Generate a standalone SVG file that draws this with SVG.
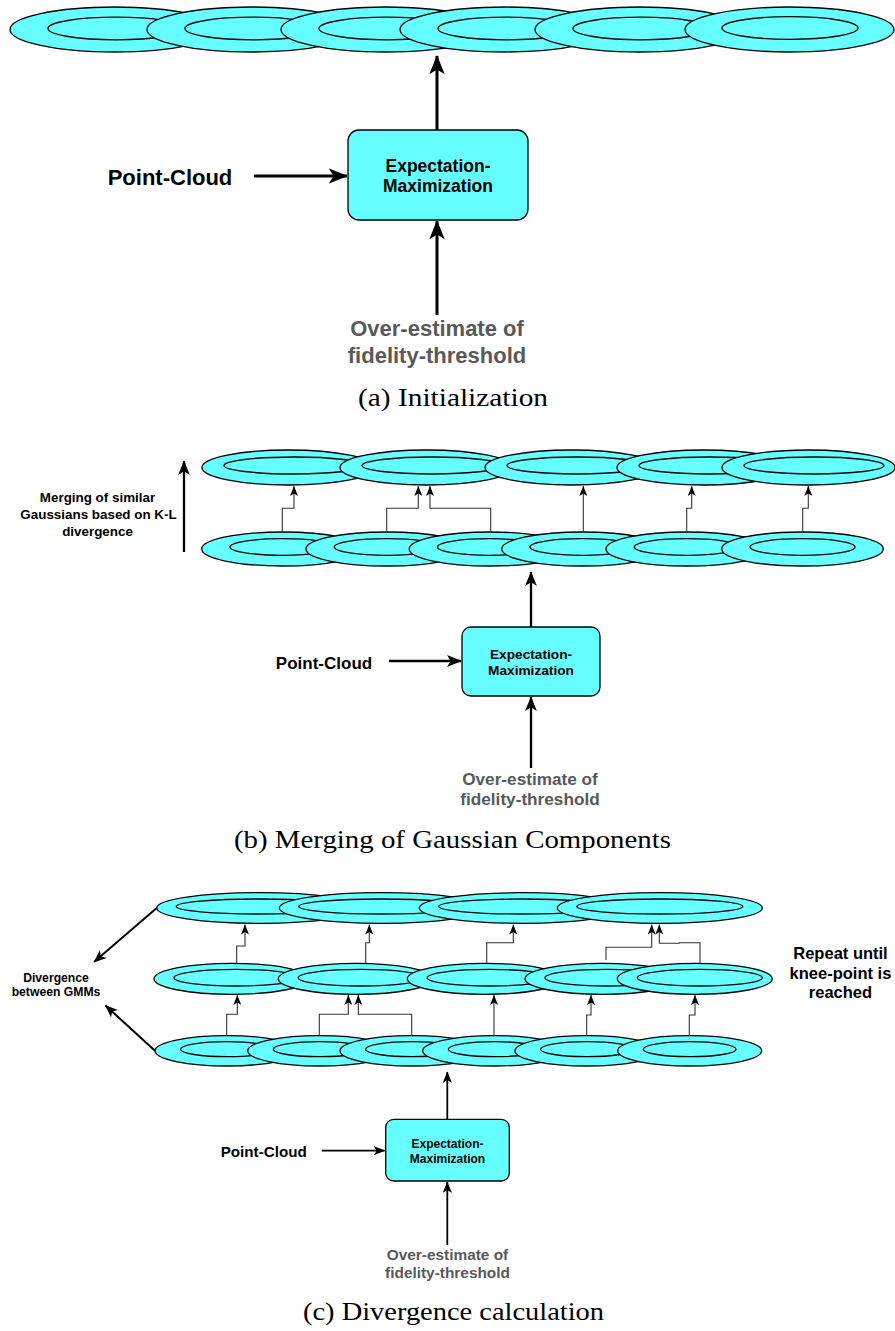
<svg xmlns="http://www.w3.org/2000/svg" width="895" height="1331" viewBox="0 0 895 1331">
<style>
.o{fill:#66FFFF;stroke:#000;stroke-width:1.3}
.i{fill:none;stroke:#000;stroke-width:1.3}
.box{fill:#66FFFF;stroke:#000;stroke-width:1.3}
.t{font-family:"Liberation Sans",Arial,sans-serif;font-weight:bold;fill:#000;text-anchor:middle}
.g{fill:#595959}
.cap{font-family:"Liberation Serif","Times New Roman",serif;font-size:26px;fill:#000;text-anchor:middle}
.thick{fill:none;stroke:#000;marker-end:url(#big)}
.thin{fill:none;stroke:#333;stroke-width:1.1;marker-end:url(#small)}
</style>
<defs>
<marker id="big" viewBox="0 0 20 16" refX="19" refY="8" markerWidth="6.4" markerHeight="5.2" markerUnits="strokeWidth" orient="auto">
<path d="M0,0 L20,8 L0,16 L5,8 Z" fill="#000"/>
</marker>
<marker id="small" viewBox="0 0 10 8" refX="10" refY="4" markerWidth="10" markerHeight="8" markerUnits="userSpaceOnUse" orient="auto">
<path d="M0,0 L10,4 L0,8 L2.5,4 Z" fill="#000"/>
</marker>
</defs>

<!-- (a) Initialization -->
<g id="a-gmm">
<g id="a-e1"><ellipse class="o" cx="114.5" cy="29.5" rx="104.5" ry="22.5"/><ellipse class="i" cx="116" cy="28.5" rx="68" ry="11.3"/></g>
<g id="a-e2"><ellipse class="o" cx="251.5" cy="29.5" rx="104.5" ry="22.5"/><ellipse class="i" cx="253" cy="28.5" rx="68" ry="11.3"/></g>
<g id="a-e3"><ellipse class="o" cx="385.5" cy="29.5" rx="104.5" ry="22.5"/><ellipse class="i" cx="387" cy="28.5" rx="68" ry="11.3"/></g>
<g id="a-e4"><ellipse class="o" cx="504.5" cy="29.5" rx="104.5" ry="22.5"/><ellipse class="i" cx="506" cy="28.5" rx="68" ry="11.3"/></g>
<g id="a-e5"><ellipse class="o" cx="639.5" cy="29.5" rx="104.5" ry="22.5"/><ellipse class="i" cx="641" cy="28.5" rx="68" ry="11.3"/></g>
<g id="a-e6"><ellipse class="o" cx="789.5" cy="29.5" rx="104.5" ry="22.5"/><ellipse class="i" cx="790" cy="28" rx="68" ry="11.3"/></g>
</g>
<g id="a-em"><rect class="box" x="348" y="130" width="180" height="90" rx="11"/>
<text class="t" x="438" y="172" font-size="17.5">Expectation-</text>
<text class="t" x="438" y="192" font-size="17.5">Maximization</text></g>
<g id="a-pc"><text class="t" x="170" y="185" font-size="22">Point-Cloud</text></g>
<g id="a-ov"><text class="t g" x="437" y="336" font-size="22">Over-estimate of</text>
<text class="t g" x="437" y="363" font-size="22">fidelity-threshold</text></g>
<g id="a-conn">
<line class="thick" stroke-width="3" x1="437" y1="130" x2="437" y2="56"/>
<line class="thick" stroke-width="3" x1="254" y1="176" x2="347" y2="176"/>
<line class="thick" stroke-width="3" x1="437" y1="315" x2="437" y2="221"/>
</g>
<text class="cap" x="453" y="406" textLength="190" lengthAdjust="spacingAndGlyphs">(a) Initialization</text>

<!-- (b) Merging -->
<g id="b-top">
<g id="b-t1"><ellipse class="o" cx="288.5" cy="467.5" rx="86.5" ry="17.5"/><ellipse class="i" cx="294" cy="465.5" rx="70" ry="8.5"/></g>
<g id="b-t2"><ellipse class="o" cx="426.5" cy="467.5" rx="86.5" ry="17.5"/><ellipse class="i" cx="432" cy="465.5" rx="70" ry="8.5"/></g>
<g id="b-t3"><ellipse class="o" cx="571.5" cy="467.5" rx="86.5" ry="17.5"/><ellipse class="i" cx="577" cy="465.5" rx="70" ry="8.5"/></g>
<g id="b-t4"><ellipse class="o" cx="703.5" cy="467.5" rx="86.5" ry="17.5"/><ellipse class="i" cx="709" cy="465.5" rx="70" ry="8.5"/></g>
<g id="b-t5"><ellipse class="o" cx="808.5" cy="467.5" rx="86.5" ry="17.5"/><ellipse class="i" cx="814" cy="465.5" rx="70" ry="8.5"/></g>
</g>
<g id="b-bot">
<g id="b-b1"><ellipse class="o" cx="282.5" cy="549" rx="80.8" ry="17"/><ellipse class="i" cx="282.5" cy="547" rx="52.5" ry="8.3"/></g>
<g id="b-b2"><ellipse class="o" cx="386.8" cy="549" rx="80.8" ry="17"/><ellipse class="i" cx="386.8" cy="547" rx="52.5" ry="8.3"/></g>
<g id="b-b3"><ellipse class="o" cx="490" cy="549" rx="80.8" ry="17"/><ellipse class="i" cx="490" cy="547" rx="52.5" ry="8.3"/></g>
<g id="b-b4"><ellipse class="o" cx="582.5" cy="549" rx="80.8" ry="17"/><ellipse class="i" cx="582.5" cy="547" rx="52.5" ry="8.3"/></g>
<g id="b-b5"><ellipse class="o" cx="686.8" cy="549" rx="80.8" ry="17"/><ellipse class="i" cx="686.8" cy="547" rx="52.5" ry="8.3"/></g>
<g id="b-b6"><ellipse class="o" cx="802.5" cy="549" rx="80.8" ry="17"/><ellipse class="i" cx="802.5" cy="547" rx="52.5" ry="8.3"/></g>
</g>
<g id="b-em"><rect class="box" x="462" y="627" width="138" height="69" rx="9"/>
<text class="t" x="531" y="659" font-size="13.7">Expectation-</text>
<text class="t" x="531" y="675" font-size="13.7">Maximization</text></g>
<g id="b-pc"><text class="t" x="324" y="669" font-size="17">Point-Cloud</text></g>
<g id="b-ov"><text class="t g" x="530" y="785" font-size="17.2">Over-estimate of</text>
<text class="t g" x="530" y="805" font-size="17.2">fidelity-threshold</text></g>
<g id="b-merge"><text class="t" x="97.5" y="501.5" font-size="13.4">Merging of similar</text>
<text class="t" x="98.5" y="518.7" font-size="13.4">Gaussians based on K-L</text>
<text class="t" x="97.5" y="535.5" font-size="13.4">divergence</text></g>
<g id="b-conn">
<line class="thick" stroke-width="2.3" x1="184" y1="552" x2="184" y2="461"/>
<line class="thick" stroke-width="2.3" x1="531" y1="627" x2="531" y2="572"/>
<line class="thick" stroke-width="2.3" x1="389" y1="661" x2="461" y2="661"/>
<line class="thick" stroke-width="2.3" x1="531" y1="768" x2="531" y2="697"/>
<polyline class="thin" points="282.3,532 282.3,508.3 294,508.3 294,486"/>
<polyline class="thin" points="386.7,532 386.7,508.3 418.3,508.3 418.3,486"/>
<polyline class="thin" points="490.7,532 490.7,508.3 430,508.3 430,486"/>
<polyline class="thin" points="583.3,532 583.3,486"/>
<polyline class="thin" points="686.7,532 686.7,508.3 691.7,508.3 691.7,486"/>
<polyline class="thin" points="802.7,532 802.7,508.3 808.3,508.3 808.3,486"/>
</g>
<text class="cap" x="452.5" y="848" textLength="437" lengthAdjust="spacingAndGlyphs">(b) Merging of Gaussian Components</text>

<!-- (c) Divergence -->
<g id="c-top">
<g id="c-t1"><ellipse class="o" cx="259.2" cy="908" rx="102.5" ry="15.3"/><ellipse class="i" cx="259.2" cy="906.5" rx="83" ry="7.5"/></g>
<g id="c-t2"><ellipse class="o" cx="381.8" cy="908" rx="102.5" ry="15.3"/><ellipse class="i" cx="381.8" cy="906.5" rx="83" ry="7.5"/></g>
<g id="c-t3"><ellipse class="o" cx="521.8" cy="908" rx="102.5" ry="15.3"/><ellipse class="i" cx="521.8" cy="906.5" rx="83" ry="7.5"/></g>
<g id="c-t4"><ellipse class="o" cx="659.8" cy="908" rx="102.5" ry="15.3"/><ellipse class="i" cx="659.8" cy="906.5" rx="83" ry="7.5"/></g>
</g>
<g id="c-mid">
<g id="c-m1"><ellipse class="o" cx="231.5" cy="978.8" rx="77.5" ry="15.5"/><ellipse class="i" cx="236.5" cy="977.7" rx="62.5" ry="8.3"/></g>
<g id="c-m2"><ellipse class="o" cx="355.8" cy="978.8" rx="77.5" ry="15.5"/><ellipse class="i" cx="360.8" cy="977.7" rx="62.5" ry="8.3"/></g>
<g id="c-m3"><ellipse class="o" cx="484.8" cy="978.8" rx="77.5" ry="15.5"/><ellipse class="i" cx="489.8" cy="977.7" rx="62.5" ry="8.3"/></g>
<g id="c-m4"><ellipse class="o" cx="602.5" cy="978.8" rx="77.5" ry="15.5"/><ellipse class="i" cx="607.5" cy="977.7" rx="62.5" ry="8.3"/></g>
<g id="c-m5"><ellipse class="o" cx="694.8" cy="978.8" rx="77.5" ry="15.5"/><ellipse class="i" cx="699.8" cy="977.7" rx="62.5" ry="8.3"/></g>
</g>
<g id="c-bot">
<g id="c-b1"><ellipse class="o" cx="227" cy="1050.8" rx="72" ry="15.2"/><ellipse class="i" cx="227" cy="1049.2" rx="46.4" ry="7.5"/></g>
<g id="c-b2"><ellipse class="o" cx="319.7" cy="1050.8" rx="72" ry="15.2"/><ellipse class="i" cx="319.7" cy="1049.2" rx="46.4" ry="7.5"/></g>
<g id="c-b3"><ellipse class="o" cx="412" cy="1050.8" rx="72" ry="15.2"/><ellipse class="i" cx="412" cy="1049.2" rx="46.4" ry="7.5"/></g>
<g id="c-b4"><ellipse class="o" cx="494.7" cy="1050.8" rx="72" ry="15.2"/><ellipse class="i" cx="494.7" cy="1049.2" rx="46.4" ry="7.5"/></g>
<g id="c-b5"><ellipse class="o" cx="587" cy="1050.8" rx="72" ry="15.2"/><ellipse class="i" cx="587" cy="1049.2" rx="46.4" ry="7.5"/></g>
<g id="c-b6"><ellipse class="o" cx="689.7" cy="1050.8" rx="72" ry="15.2"/><ellipse class="i" cx="689.7" cy="1049.2" rx="46.4" ry="7.5"/></g>
</g>
<g id="c-em"><rect class="box" x="385.7" y="1119.3" width="123.6" height="61.7" rx="8"/>
<text class="t" x="447.5" y="1147.5" font-size="12">Expectation-</text>
<text class="t" x="447.5" y="1163.2" font-size="12">Maximization</text></g>
<g id="c-pc"><text class="t" x="263.7" y="1157" font-size="15.2">Point-Cloud</text></g>
<g id="c-ov"><text class="t g" x="447.5" y="1259.7" font-size="15.4">Over-estimate of</text>
<text class="t g" x="447.5" y="1278.1" font-size="15.4">fidelity-threshold</text></g>
<g id="c-div"><text class="t" x="56" y="982" font-size="12.2">Divergence</text>
<text class="t" x="56" y="996" font-size="12.2">between GMMs</text></g>
<g id="c-rep"><text class="t" x="840.5" y="959" font-size="16.5">Repeat until</text>
<text class="t" x="840.5" y="978.5" font-size="16.5">knee-point is</text>
<text class="t" x="840.5" y="998" font-size="16.5">reached</text></g>
<g id="c-conn">
<line class="thick" stroke-width="2" x1="156.7" y1="908" x2="94" y2="962"/>
<line class="thick" stroke-width="2" x1="155" y1="1050.8" x2="105.5" y2="1005.5"/>
<line class="thick" stroke-width="1.8" x1="447.3" y1="1119.3" x2="447.3" y2="1072"/>
<line class="thick" stroke-width="1.8" x1="321.7" y1="1150.7" x2="384.7" y2="1150.7"/>
<line class="thick" stroke-width="1.8" x1="447.3" y1="1245" x2="447.3" y2="1182"/>
<polyline class="thin" points="226.7,1036 226.7,1014.3 237.3,1014.3 237.3,995"/>
<polyline class="thin" points="319.3,1036 319.3,1014.3 348.3,1014.3 348.3,995"/>
<polyline class="thin" points="411.7,1036 411.7,1014.3 358.3,1014.3 358.3,995"/>
<polyline class="thin" points="494,1036 494,995"/>
<polyline class="thin" points="586.7,1036 586.7,1015 591,1015 591,995"/>
<polyline class="thin" points="689.3,1036 689.3,1015 695,1015 695,995"/>
<polyline class="thin" points="236.7,963.5 236.7,946 245,946 245,924.5"/>
<polyline class="thin" points="365.7,963.5 365.7,942.7 369.3,942.7 369.3,924.5"/>
<polyline class="thin" points="486.7,963.5 486.7,942.7 513.3,942.7 513.3,924.5"/>
<polyline class="thin" points="606,960 606,947.3 651.7,947.3 651.7,924.5"/>
<polyline class="thin" points="700,963.5 700,942.7 679.3,942.7 679.3,943.3 659.3,943.3 659.3,924.5"/>
</g>
<text class="cap" x="453.5" y="1320" textLength="301" lengthAdjust="spacingAndGlyphs">(c) Divergence calculation</text>
</svg>
